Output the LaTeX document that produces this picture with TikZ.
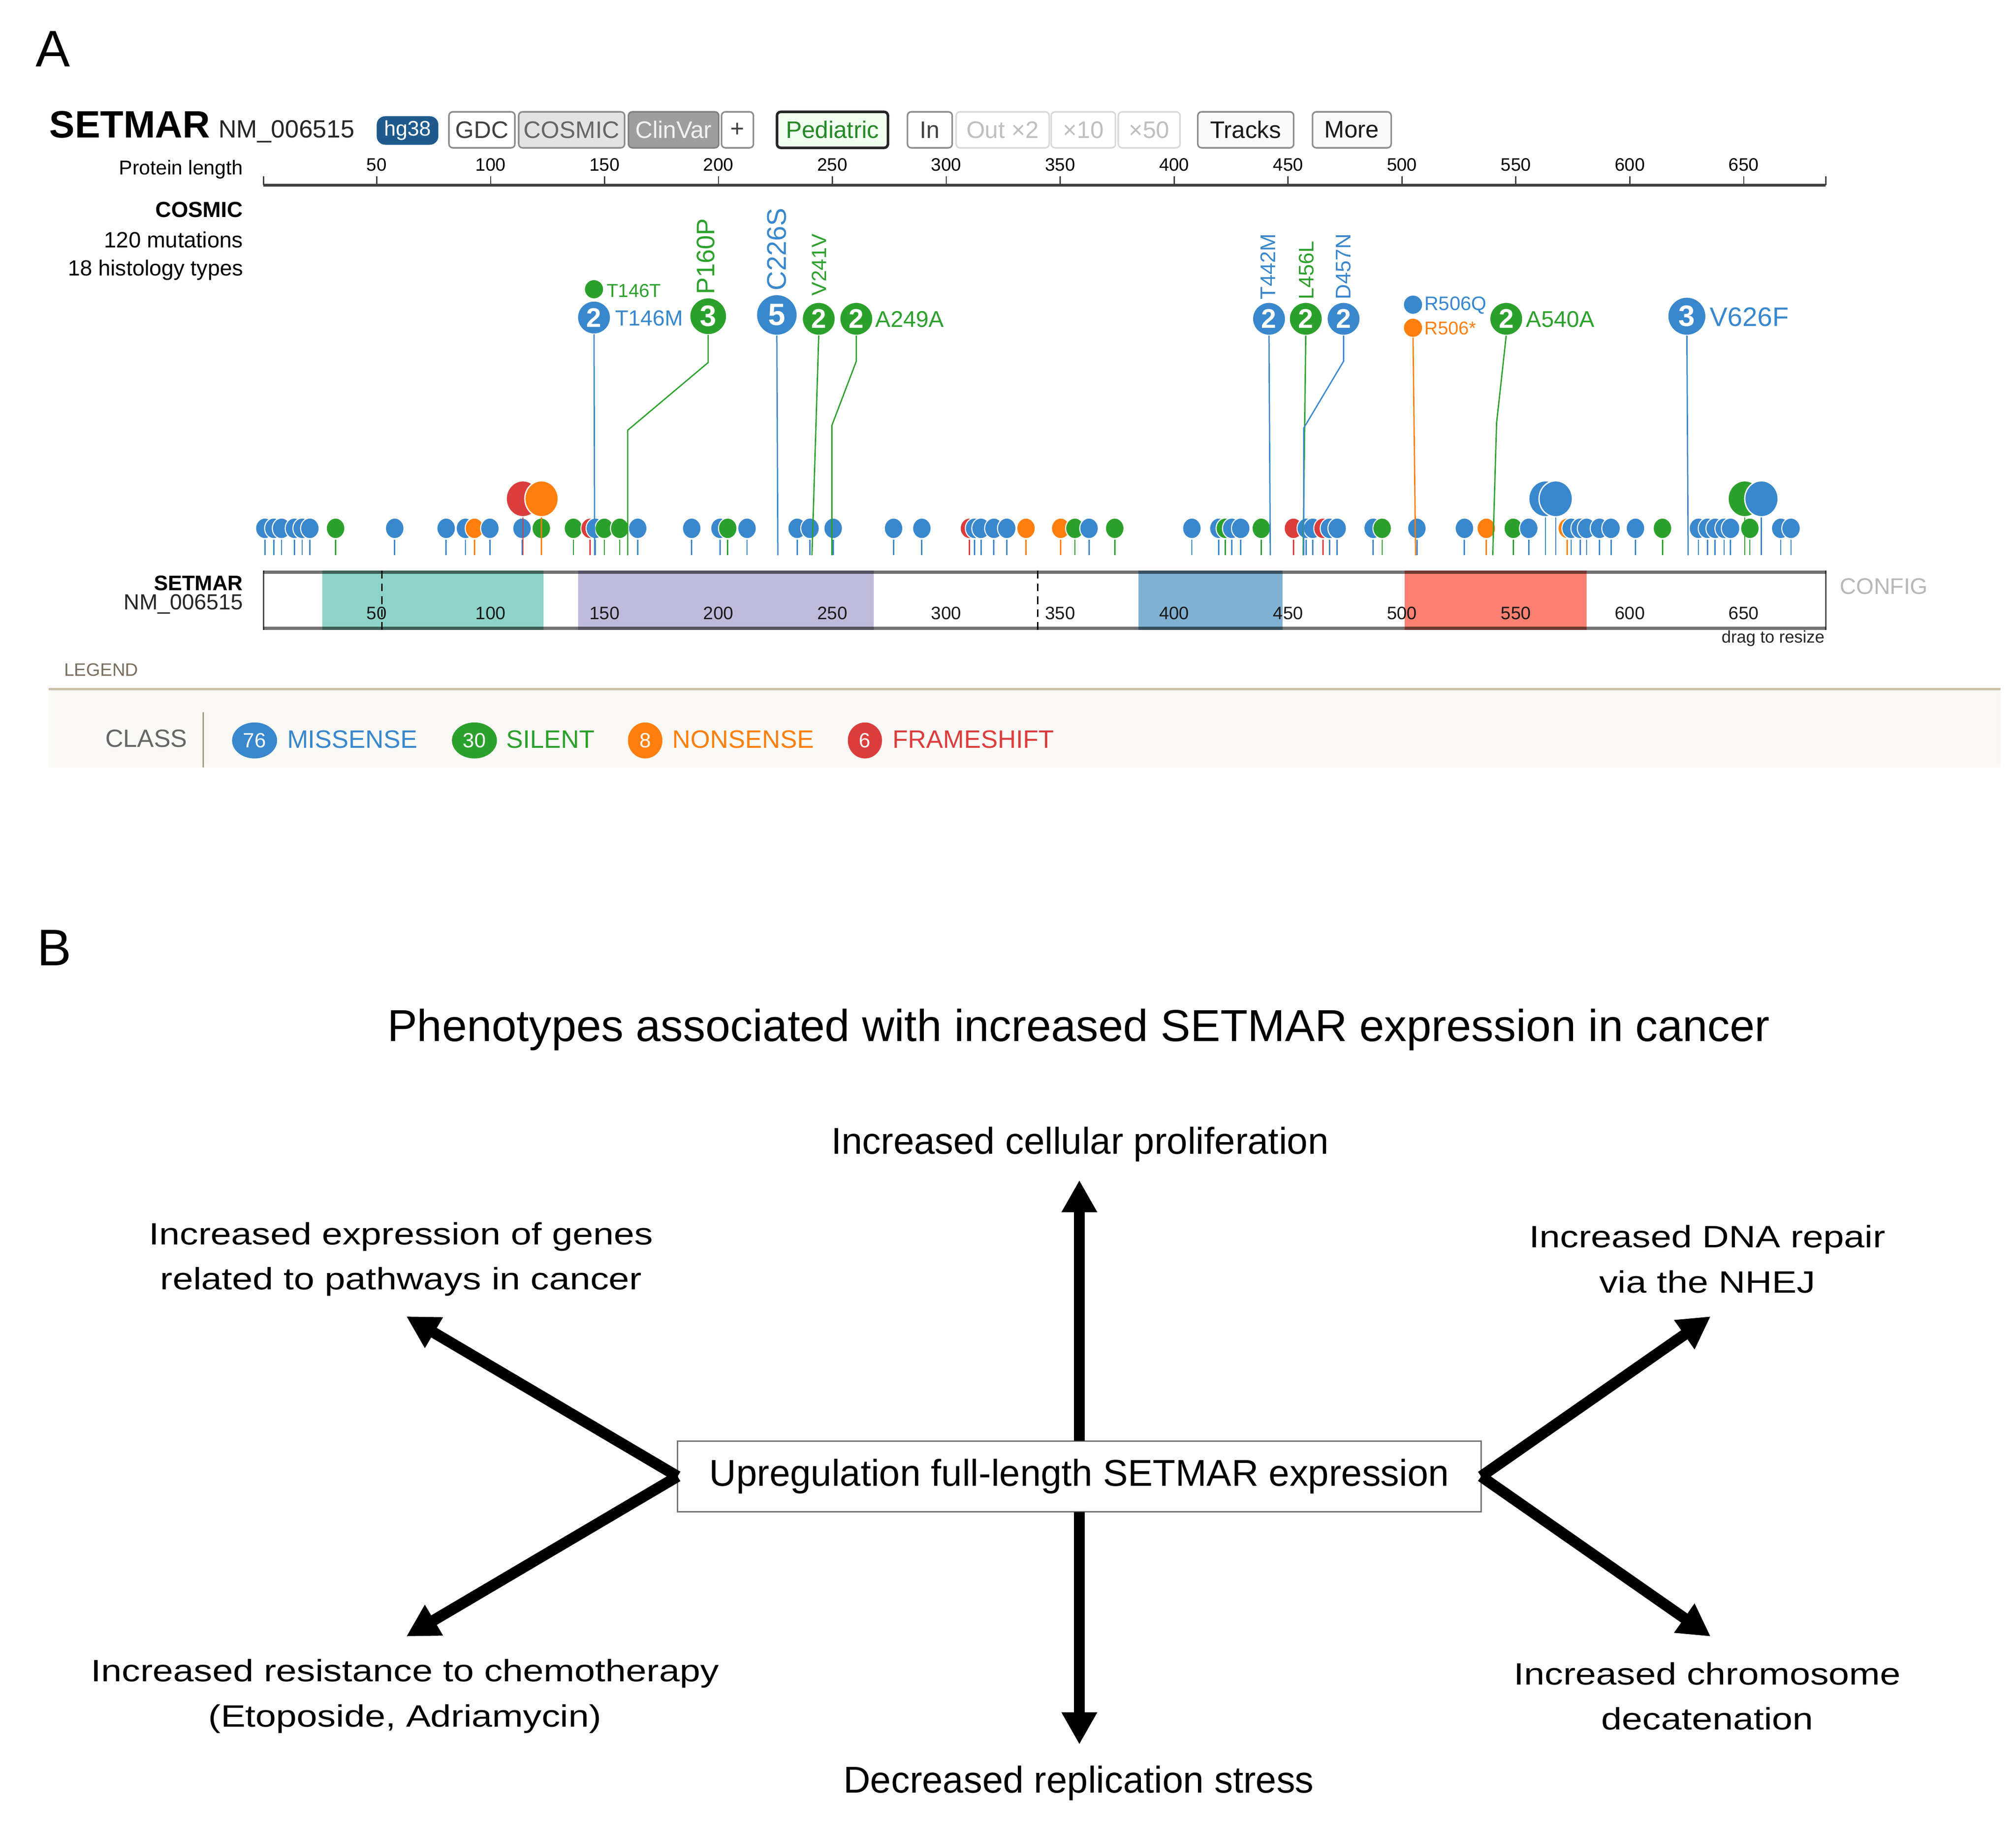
\documentclass[tikz,border=0pt]{standalone}
\usepackage{fontspec}
\setmainfont{Liberation Sans}
\newfontfamily\widefont[FakeStretch=1.2]{Liberation Sans}
\usetikzlibrary{arrows.meta,shapes.geometric}
\definecolor{mis}{HTML}{3987CC}
\definecolor{sil}{HTML}{2CA02C}
\definecolor{non}{HTML}{FF7F0E}
\definecolor{fra}{HTML}{DB3D3D}
\definecolor{domA}{HTML}{8DD3C7}
\definecolor{domB}{HTML}{BEBADA}
\definecolor{domC}{HTML}{80B1D3}
\definecolor{domD}{HTML}{FB8072}
\definecolor{hgblue}{HTML}{1E5A8C}
\definecolor{legbg}{HTML}{FBF9F5}
\definecolor{legline}{HTML}{C9C0A8}
\definecolor{legtxt}{HTML}{7A6E5E}
\newcommand\fsz[1]{\fontsize{#1}{#1}\selectfont}
\tikzset{
  btn/.style={draw=black!45, line width=0.6pt, rounded corners=1.5pt, minimum height=14pt, anchor=west, font=\fsz{9.3}, text=black!75},
  fadedbtn/.style={btn, draw=black!15, text=black!25},
  bub/.style={circle, fill=#1, draw=white, line width=0.6pt, text=white, font=\bfseries\fsz{10.5}, minimum size=13pt},
  dot/.style={circle, fill=#1, draw=white, line width=0.4pt, minimum size=7.5pt},
  stem/.style={#1, line width=0.5pt},
  bigarrow/.style={line width=4.3pt, -{Triangle[length=12.5pt,width=13pt]}},
  sidetxt/.style={align=center, font=\widefont\fontsize{12}{17.5}\selectfont},
  maintxt/.style={font=\fsz{14.5}},
  badge/.style={ellipse, fill=#1, minimum height=14pt, text=white, font=\fsz{8}},
  legtext/.style={anchor=west, text=#1, font=\fsz{9.8}}
}
\begin{document}
\begin{tikzpicture}[x=0.5pt,y=-0.5pt, every node/.style={inner sep=0pt, outer sep=0pt}]
\useasboundingbox (0,0) rectangle (1568,1423.5);
\fill[white] (0,0) rectangle (1568,1423.5);

% ---------------- Panel A ----------------
\node[anchor=base west, font=\fsz{20}] (labA) at (28,52) {A};
\node[anchor=base west, font=\bfseries\fsz{14.8}] (gene) at (38.5,107) {SETMAR};
\node[anchor=base west, font=\fsz{9.7}, text=black!85] (nm) at (170,107) {NM\_006515};

\node[btn, fill=hgblue, draw=hgblue, rounded corners=3pt, minimum width=23.35pt, minimum height=10.5pt, text=white, font=\fsz{8.2}] (hg) at (293.6,101.5) {hg38};
\node[btn, fill=white, minimum width=25.65pt] (gdc) at (349.2,101) {GDC};
\node[btn, fill=black!11, text=black!60, minimum width=41.2pt] (cosm) at (403.4,101) {COSMIC};
\node[btn, fill=black!38, draw=black!50, text=black!5, minimum width=35.1pt] (clin) at (488.8,101) {ClinVar};
\node[btn, fill=white, minimum width=12.4pt] (plus) at (561.2,101) {+};
\node[btn, fill=green!6, draw=black!85, line width=1pt, text=sil!85!black, minimum width=43.15pt] (ped) at (604.3,101) {Pediatric};
\node[btn, fill=white, minimum width=17.4pt] (zin) at (705.8,101) {In};
\node[fadedbtn, minimum width=36.2pt] (zout) at (743.6,101) {Out ×2};
\node[fadedbtn, minimum width=25pt] (z10) at (817.6,101) {×10};
\node[fadedbtn, minimum width=24pt] (z50) at (869.8,101) {×50};
\node[btn, fill=black!2, text=black!90, minimum width=37.3pt] (tracks) at (931.6,101) {Tracks};
\node[btn, fill=black!2, text=black!90, minimum width=30.6pt] (more) at (1020.8,101) {More};

% protein length axis
\node[anchor=east, font=\fsz{7.8}] (plen) at (189,132) {Protein length};
\draw[black!75, line width=1pt] (205,144) -- (1420,144);
\draw[black!75, line width=0.5pt] (205,137) -- (205,144) (1420,137) -- (1420,144);
\foreach \v in {50,100,...,650}{
  \draw[black!75, line width=0.5pt] ({204.4+1.772*\v},137) -- ({204.4+1.772*\v},144);
  \node[font=\fsz{7}] at ({204.4+1.772*\v},128) {\v};
}

% COSMIC info
\node[anchor=east, font=\bfseries\fsz{8.5}] (cos) at (189,163) {COSMIC};
\node[anchor=east, font=\fsz{8.6}] (nmut) at (189,186.5) {120 mutations};
\node[anchor=east, font=\fsz{8.5}] (nhist) at (189,210) {18 histology types};

% small lollipops
\foreach \x/\c in {206/mis,213/mis,219/mis,229/mis,235/mis,241/mis,261/sil,307/mis,347/mis,362/mis,369/non,381/mis,406/mis,421/sil,446/sil,459/fra,463/mis,470/sil,482/sil,496/mis,538/mis,560/mis,566/sil,581/mis,620/mis,630/mis,648/mis,695/mis,717/mis,754/fra,758/mis,763/mis,773/mis,783/mis,798/non,825/non,836/sil,847/mis,867/sil,927/mis,948/mis,953/sil,958/mis,965/mis,981/sil,1006/fra,1016/mis,1021/mis,1029/fra,1034/mis,1040/mis,1068/mis,1075/sil,1102/mis,1139/mis,1156/non,1177/sil,1189/mis,1219/non,1222/mis,1229/mis,1234/mis,1244/mis,1253/mis,1272/mis,1293/sil,1321/mis,1328/mis,1334/mis,1341/mis,1346/mis,1361/sil,1385/mis,1393/mis}{
  \draw[stem=\c] (\x,420) -- (\x,432);
}
\foreach \x/\c in {206/mis,213/mis,219/mis,229/mis,235/mis,241/mis,261/sil,307/mis,347/mis,362/mis,369/non,381/mis,406/mis,421/sil,446/sil,459/fra,463/mis,470/sil,482/sil,496/mis,538/mis,560/mis,566/sil,581/mis,620/mis,630/mis,648/mis,695/mis,717/mis,754/fra,758/mis,763/mis,773/mis,783/mis,798/non,825/non,836/sil,847/mis,867/sil,927/mis,948/mis,953/sil,958/mis,965/mis,981/sil,1006/fra,1016/mis,1021/mis,1029/fra,1034/mis,1040/mis,1068/mis,1075/sil,1102/mis,1139/mis,1156/non,1177/sil,1189/mis,1219/non,1222/mis,1229/mis,1234/mis,1244/mis,1253/mis,1272/mis,1293/sil,1321/mis,1328/mis,1334/mis,1341/mis,1346/mis,1361/sil,1385/mis,1393/mis}{
  \fill[\c, draw=white, line width=0.4pt] (\x,411) ellipse[x radius=7.2, y radius=8];
}

% medium lollipops
\foreach \x/\c in {406.7/fra,421.2/non,1202/mis,1210/mis,1357/sil,1370/mis}{
  \draw[stem=\c] (\x,402) -- (\x,432);
}
\foreach \x/\c in {406.7/fra,421.2/non,1202/mis,1210/mis,1357/sil,1370/mis}{
  \fill[\c, draw=white, line width=0.5pt] (\x,388) ellipse[x radius=13, y radius=14];
}

% labelled lollipops: stems
\coordinate (e146) at (462.5,432);
\coordinate (e160) at (488.2,432);
\coordinate (e226) at (605,432);
\coordinate (e241) at (631.5,432);
\coordinate (e249) at (647,432);
\coordinate (e442) at (988,432);
\coordinate (e456) at (1013.5,432);
\coordinate (e457) at (1014,432);
\coordinate (e506) at (1101,432);
\coordinate (e540) at (1161,432);
\coordinate (e626) at (1313,432);

\node[bub=mis] (m146) at (462,247) {2};
\node[bub=sil, minimum size=14.5pt, font=\bfseries\fsz{11.5}] (m160) at (550.8,246) {3};
\node[bub=mis, minimum size=16pt, font=\bfseries\fsz{12}] (m226) at (604.2,245) {5};
\node[bub=sil] (m241) at (636.8,248) {2};
\node[bub=sil] (m249) at (666,248) {2};
\node[bub=mis] (m442) at (987,248) {2};
\node[bub=sil] (m456) at (1015.6,248) {2};
\node[bub=mis] (m457) at (1045,248) {2};
\node[bub=sil] (m540) at (1171.5,248) {2};
\node[bub=mis, minimum size=15pt, font=\bfseries\fsz{11.5}] (m626) at (1312,246) {3};
\node[dot=sil] (d146) at (462,225) {};
\node[dot=mis] (d506q) at (1099,237) {};
\node[dot=non] (d506s) at (1099,255) {};

\draw[stem=mis] (m146.south) -- (e146);
\draw[stem=sil] (m160.south) -- (550.8,282) -- (488.2,334.7) -- (e160);
\draw[stem=mis] (m226.south) -- (e226);
\draw[stem=sil] (m241.south) -- (e241);
\draw[stem=sil] (m249.south) -- (666,281) -- (647,331) -- (e249);
\draw[stem=mis] (m442.south) -- (e442);
\draw[stem=sil] (m456.south) -- (e456);
\draw[stem=mis] (m457.south) -- (1045,281) -- (1014,333) -- (e457);
\draw[stem=non] (d506s.south) -- (e506);
\draw[stem=sil] (m540.south) -- (1164,329) -- (e540);
\draw[stem=mis] (m626.south) -- (e626);

% labels
\node[anchor=west, text=mis, font=\fsz{8.5}] (l146m) at (478.5,247.5) {T146M};
\node[anchor=west, text=sil, font=\fsz{7.3}] (l146t) at (472,226) {T146T};
\node[anchor=west, rotate=90, text=sil, font=\fsz{9.85}] (l160) at (549,229) {P160P};
\node[anchor=west, rotate=90, text=mis, font=\fsz{10.5}] (l226) at (604,226) {C226S};
\node[anchor=west, rotate=90, text=sil, font=\fsz{8}] (l241) at (637,230) {V241V};
\node[anchor=west, text=sil, font=\fsz{8.85}] (l249) at (681,248.5) {A249A};
\node[anchor=west, rotate=90, text=mis, font=\fsz{8.2}] (l442) at (986,233) {T442M};
\node[anchor=west, rotate=90, text=sil, font=\fsz{8.2}] (l456) at (1016,233) {L456L};
\node[anchor=west, rotate=90, text=mis, font=\fsz{8.2}] (l457) at (1045,233) {D457N};
\node[anchor=west, text=mis, font=\fsz{7.6}] (l506q) at (1108,237.5) {R506Q};
\node[anchor=west, text=non, font=\fsz{7.2}] (l506s) at (1108,255.5) {R506*};
\node[anchor=west, text=sil, font=\fsz{8.85}] (l540) at (1187,248.5) {A540A};
\node[anchor=west, text=mis, font=\fsz{10.4}] (l626) at (1330,246.5) {V626F};

% protein bar
\fill[white] (205,444) rectangle (1420,490);
\fill[domA] (250.6,444) rectangle (422.7,490);
\fill[domB] (449.8,444) rectangle (679.5,490);
\fill[domC] (885.5,444) rectangle (997.5,490);
\fill[domD] (1092.6,444) rectangle (1234,490);
\draw[black, line width=0.5pt, dash pattern=on 3pt off 2pt] (297,444) -- (297,490) (807,444) -- (807,490);
\draw[black!70, line width=0.6pt] (205,444) -- (205,490) (1420,444) -- (1420,490);
\draw[black, opacity=0.55, line width=1.3pt] (204.7,445.2) -- (1420.3,445.2) (204.7,488.8) -- (1420.3,488.8);
\foreach \v in {50,100,...,650}{
  \node[font=\fsz{7}, text=black!90] at ({204.4+1.772*\v},477) {\v};
}
\node[anchor=east, font=\bfseries\fsz{8.2}] (pbg) at (189,453.5) {SETMAR};
\node[anchor=east, font=\fsz{8.5}, text=black!85] (pbnm) at (189,470) {NM\_006515};
\node[anchor=west, font=\fsz{8.8}, text=black!28] (cfg) at (1431,456) {CONFIG};
\node[anchor=east, font=\fsz{6.6}, text=black!85] (drag) at (1419,496.5) {drag to resize};

% legend
\node[anchor=west, font=\fsz{7}, text=legtxt] (leg) at (50,521) {LEGEND};
\fill[legbg] (38,537.5) rectangle (1556,597);
\draw[legline, line width=1pt] (38,536) -- (1556,536);
\draw[legline!80!black, line width=0.6pt] (158,554) -- (158,597);
\node[anchor=west, font=\fsz{9.7}, text=black!60] (cls) at (82,574.5) {CLASS};
\node[badge=mis, minimum width=17.5pt] (b76) at (198,576) {76};
\node[legtext=mis] (tmis) at (223.4,575) {MISSENSE};
\node[badge=sil, minimum width=17.5pt] (b30) at (369,576) {30};
\node[legtext=sil] (tsil) at (393.8,575) {SILENT};
\node[badge=non, minimum width=13.4pt] (b8) at (501.8,576) {8};
\node[legtext=non] (tnon) at (523,575) {NONSENSE};
\node[badge=fra, minimum width=13.3pt] (b6) at (672.7,576) {6};
\node[legtext=fra] (tfra) at (694.4,575) {FRAMESHIFT};

% ---------------- Panel B ----------------
\node[anchor=base west, font=\fsz{20}] (labB) at (29,751) {B};
\node[font=\fsz{17.4}] (title) at (839,801) {Phenotypes associated with increased SETMAR expression in cancer};

\node[draw=black!55, line width=0.5pt, minimum width=312.5pt, minimum height=27.5pt, maintxt] (core) at (839.5,1148.5) {Upregulation full-length SETMAR expression};

\node[maintxt] (prolif) at (840,890) {Increased cellular proliferation};
\node[maintxt] (stress) at (839,1387) {Decreased replication stress};
\node[sidetxt] (genes) at (312,979.5) {Increased expression of genes\\related to pathways in cancer};
\node[sidetxt] (dna) at (1328,979.5) {Increased DNA repair\\via the NHEJ};
\node[sidetxt] (chemo) at (315,1319.5) {Increased resistance to chemotherapy\\(Etoposide, Adriamycin)};
\node[sidetxt] (decat) at (1328,1319.5) {Increased chromosome\\decatenation};

\coordinate (tipU) at (839.5,918);
\coordinate (tipD) at (839.5,1357);
\coordinate (tipUL) at (316,1024);
\coordinate (tipDL) at (316,1273);
\coordinate (tipUR) at (1330.5,1024);
\coordinate (tipDR) at (1330.5,1273);

\draw[bigarrow] (core.north) -- (tipU);
\draw[bigarrow] (core.south) -- (tipD);
\draw[bigarrow] (core.west) -- (tipUL);
\draw[bigarrow] (core.west) -- (tipDL);
\draw[bigarrow] (core.east) -- (tipUR);
\draw[bigarrow] (core.east) -- (tipDR);
\end{tikzpicture}
\end{document}
